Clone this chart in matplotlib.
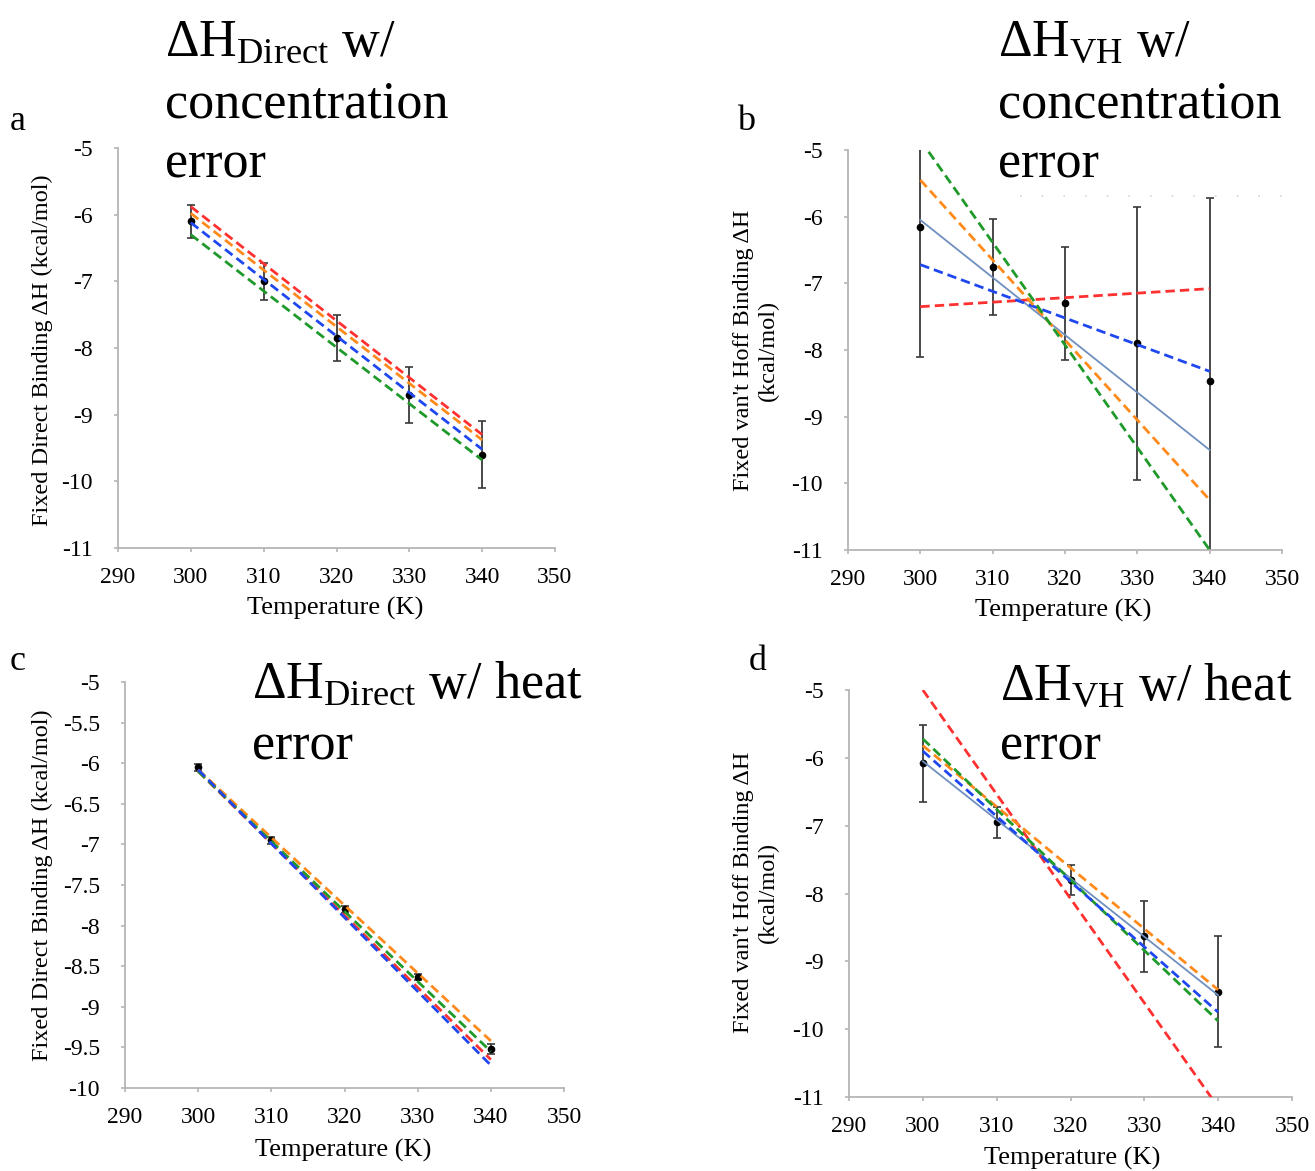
import matplotlib
matplotlib.use("Agg")
import matplotlib.pyplot as plt
from matplotlib.lines import Line2D
import numpy as np

plt.rcParams["font.family"] = ["Liberation Serif", "DejaVu Serif"]
plt.rcParams["mathtext.fontset"] = "custom"
plt.rcParams["mathtext.rm"] = "Liberation Serif"
plt.rcParams["mathtext.it"] = "Liberation Serif:italic"

# Temperatures (K)
temps = [300, 310, 320, 330, 340]
fit_ends = [300, 340]

# Panel a: direct binding dH with concentration error
a_values = [-6.1, -7.0, -7.85, -8.7, -9.6]
a_errors = [0.25, 0.28, 0.35, 0.42, 0.5]
a_red = [-5.88, -9.3]
a_orange = [-5.98, -9.38]
a_blue = [-6.12, -9.52]
a_green = [-6.3, -9.68]

# Panel b: van't Hoff dH with concentration error
b_values = [-6.15, -6.75, -7.3, -7.9, -8.47]
b_errors = [1.95, 0.72, 0.85, 2.05, 2.75]
b_fit = [-6.05, -9.5]
b_red = [-7.35, -7.08]
b_orange = [-5.45, -10.25]
b_blue = [-6.72, -8.32]
b_green = [-4.85, -11.0]

# Panel c: direct binding dH with heat error
c_values = [-6.05, -6.95, -7.8, -8.63, -9.52]
c_errors = [0.04, 0.04, 0.04, 0.04, 0.06]
c_red = [-6.1, -9.65]
c_orange = [-6.08, -9.42]
c_green = [-6.1, -9.55]
c_blue = [-6.08, -9.72]

# Panel d: van't Hoff dH with heat error
d_values = [-6.08, -6.95, -7.8, -8.63, -9.45]
d_errors = [0.57, 0.23, 0.22, 0.52, 0.82]
d_fit = [-6.05, -9.5]
d_red = [-5.0, -11.15]
d_orange = [-5.82, -9.42]
d_green = [-5.72, -9.88]
d_blue = [-5.9, -9.75]

RED = "#ff3030"
ORANGE = "#ff8a1c"
BLUE = "#1f47f0"
GREEN = "#1f9a2a"
STEEL = "#6f8fbf"
SPINE = "#b5b5b5"

W, H = 1315, 1171
fig = plt.figure(figsize=(W / 100, H / 100), dpi=100)


def fx(x):
    return x / W


def fy(y):
    return 1 - y / H


def box(l, t, r, b):
    return [l / W, 1 - b / H, (r - l) / W, (b - t) / H]


def style(ax, ylim, yticks):
    ax.set_xlim(290, 350)
    ax.set_xticks(range(290, 351, 10))
    ax.set_ylim(*ylim)
    ax.set_yticks(yticks)
    ax.set_yticklabels([("%g" % v) for v in yticks])
    for s in ("top", "right"):
        ax.spines[s].set_visible(False)
    for s in ("left", "bottom"):
        ax.spines[s].set_color(SPINE)
        ax.spines[s].set_linewidth(1.3)
    ax.tick_params(direction="out", length=3, width=1.2, color=SPINE,
                   labelsize=17)
    ax.tick_params(axis="x", pad=11)
    ax.tick_params(axis="y", pad=15)


def dashed(ax, ys, color):
    ax.plot(fit_ends, ys, color=color, lw=2.0, ls=(0, (3.4, 1.8)), zorder=3)


def points(ax, vals, errs):
    ax.errorbar(temps, vals, yerr=errs, fmt="o", color="black", ms=4.5,
                ecolor="#3a3a3a", elinewidth=1.3, capsize=3, capthick=1.2,
                zorder=2)


def xlabel(x, y):
    fig.text(fx(x), fy(y), "Temperature (K)", fontsize=19,
             ha="center", va="center")


def ylabel(x, y, text):
    fig.text(fx(x), fy(y), text, fontsize=17.5, rotation=90,
             ha="center", va="center", linespacing=1.25, multialignment="center")


# Panel a
ax_a = fig.add_axes(box(118, 148, 555, 548))
points(ax_a, a_values, a_errors)
dashed(ax_a, a_red, RED)
dashed(ax_a, a_orange, ORANGE)
dashed(ax_a, a_blue, BLUE)
dashed(ax_a, a_green, GREEN)
style(ax_a, (-11, -5), [-11, -10, -9, -8, -7, -6, -5])
xlabel(335, 608)
ylabel(42, 350, "Fixed Direct Binding ΔH (kcal/mol)")

# Panel b
ax_b = fig.add_axes(box(848, 150, 1282, 550))
points(ax_b, b_values, b_errors)
ax_b.plot(fit_ends, b_fit, color=STEEL, lw=1.3, zorder=3)
dashed(ax_b, b_red, RED)
dashed(ax_b, b_blue, BLUE)
dashed(ax_b, b_orange, ORANGE)
dashed(ax_b, b_green, GREEN)
style(ax_b, (-11, -5), [-11, -10, -9, -8, -7, -6, -5])
xlabel(1063, 610)
ylabel(756, 350, "Fixed van't Hoff Binding ΔH\n(kcal/mol)")

# Panel c
ax_c = fig.add_axes(box(125, 682, 564, 1088))
points(ax_c, c_values, c_errors)
dashed(ax_c, c_red, RED)
dashed(ax_c, c_orange, ORANGE)
dashed(ax_c, c_green, GREEN)
dashed(ax_c, c_blue, BLUE)
style(ax_c, (-10, -5), list(np.arange(-10, -4.9, 0.5)))
xlabel(343, 1150)
ylabel(42, 885, "Fixed Direct Binding ΔH (kcal/mol)")

# Panel d
ax_d = fig.add_axes(box(849, 690, 1292, 1097))
points(ax_d, d_values, d_errors)
ax_d.plot(fit_ends, d_fit, color=STEEL, lw=1.3, zorder=3)
dashed(ax_d, d_red, RED)
dashed(ax_d, d_orange, ORANGE)
dashed(ax_d, d_green, GREEN)
dashed(ax_d, d_blue, BLUE)
style(ax_d, (-11, -5), [-11, -10, -9, -8, -7, -6, -5])
xlabel(1072, 1158)
ylabel(756, 892, "Fixed van't Hoff Binding ΔH\n(kcal/mol)")

# Panel titles, one baseline per line
TSIZE = 37.5


def title(x, baselines, lines):
    for yb, txt in zip(baselines, lines):
        fig.text(fx(x), fy(yb), txt, fontsize=TSIZE, ha="left", va="baseline")


title(165, [56, 118, 178],
      [r"$\Delta$H$_{\mathrm{Direct}}$ w/", "concentration", "error"])
title(998, [56, 118, 178],
      [r"$\Delta$H$_{\mathrm{VH}}$ w/", "concentration", "error"])
title(252, [698, 760], [r"$\Delta$H$_{\mathrm{Direct}}$ w/ heat", "error"])
title(1000, [700, 760], [r"$\Delta$H$_{\mathrm{VH}}$ w/ heat", "error"])

# Faint dotted rule under the panel b title
fig.add_artist(Line2D([fx(1020), fx(1292)], [fy(196), fy(196)],
                      color="#d8d8d8", lw=1.2, ls=(0, (1, 12))))

# Panel letters
for x, y, s in [(10, 130, "a"), (737, 130, "b"), (10, 670, "c"), (749, 670, "d")]:
    fig.text(fx(x), fy(y), s, fontsize=26, ha="left", va="baseline")

fig.savefig("out.png", dpi=100)
